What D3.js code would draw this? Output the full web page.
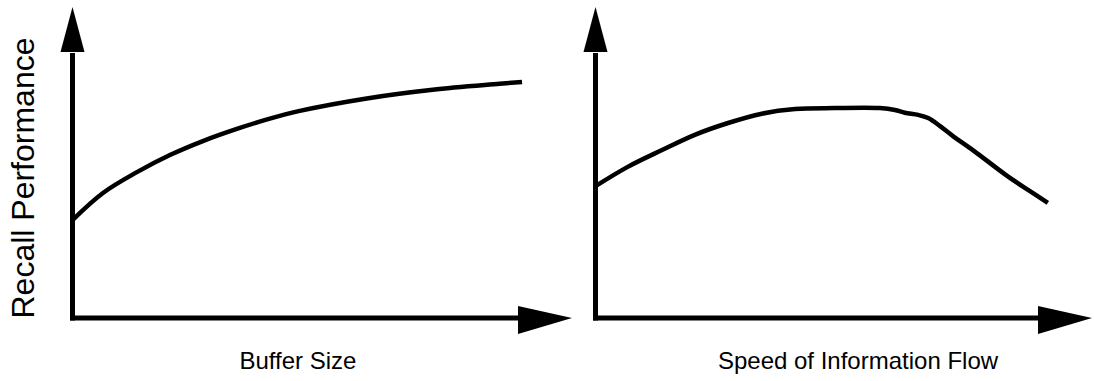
<!DOCTYPE html>
<html>
<head>
<meta charset="utf-8">
<script src="https://cdn.jsdelivr.net/npm/d3@7"></script>
<style>
  body { margin: 0; background: #fff; }
  text { font-family: 'Liberation Sans', Arial, sans-serif; font-size: 24px; fill: #000; }
</style>
</head>
<body>
<div class="chart"></div>
<script>
// values, axis units 0..100 (100 = arrow tip)
const bufferSize = [0, 6.1, 12.9, 19.5, 26.1, 32.9, 39.5, 45.5, 58.9, 72.1, 85.5, 90];
const recallByBuffer = [31.5, 40.2, 46.9, 52.4, 56.9, 60.8, 64.1, 66.6, 70.6, 73.4, 75.3, 75.9];

const flowSpeed = [0, 6.5, 13.4, 20, 26.7, 33.5, 40.2, 48.2, 57.3, 60.3, 62.3, 65, 67, 69.4, 72, 76, 82.9, 87.5, 91.1];
const recallBySpeed = [42.4, 48.6, 54, 58.9, 62.7, 65.7, 67.2, 67.5, 67.5, 66.9, 66.0, 65.3, 64.3, 61.7, 58.5, 54, 45.7, 40.8, 37];

const xLabels = ['Buffer Size', 'Speed of Information Flow'];
const yLabel = 'Recall Performance';

const width = 1094;
const height = 381;

const svg = d3.select('.chart')
  .append('svg')
  .attr('width', width)
  .attr('height', height);

const panels = [
  { x0: 72.5, x1: 572, xs: bufferSize, ys: recallByBuffer, label: xLabels[0], labelX: 298 },
  { x0: 595.5, x1: 1092, xs: flowSpeed, ys: recallBySpeed, label: xLabels[1], labelX: 858 },
];

const y = d3.scaleLinear().domain([0, 100]).range([318, 7]);

panels.forEach((p) => {
  const x = d3.scaleLinear().domain([0, 100]).range([p.x0, p.x1]);
  const g = svg.append('g');

  // y axis with arrow
  g.append('line')
    .attr('x1', x(0)).attr('x2', x(0))
    .attr('y1', y(0) + 2.5).attr('y2', y(100) + 46)
    .attr('stroke', '#000')
    .attr('stroke-width', 5);
  g.append('path')
    .attr('d', `M${x(0)},${y(100)} L${x(0) - 12},${y(100) + 45} L${x(0) + 12},${y(100) + 45} Z`)
    .attr('fill', '#000');

  // x axis with arrow
  g.append('line')
    .attr('x1', x(0) - 2.5).attr('x2', x(100) - 53)
    .attr('y1', y(0)).attr('y2', y(0))
    .attr('stroke', '#000')
    .attr('stroke-width', 5);
  g.append('path')
    .attr('d', `M${x(100)},${y(0)} L${x(100) - 54},${y(0) - 12} L${x(100) - 54},${y(0) + 16} Z`)
    .attr('fill', '#000');

  // curve
  const line = d3.line()
    .x((d) => x(d[0]))
    .y((d) => y(d[1]))
    .curve(d3.curveCatmullRom.alpha(0.5));
  g.append('path')
    .datum(d3.zip(p.xs, p.ys))
    .attr('d', line)
    .attr('fill', 'none')
    .attr('stroke', '#000')
    .attr('stroke-width', 4.5);

  g.append('text')
    .attr('x', p.labelX)
    .attr('y', 369)
    .attr('text-anchor', 'middle')
    .text(p.label);
});

svg.append('text')
  .attr('transform', 'translate(34,178) rotate(-90)')
  .attr('text-anchor', 'middle')
  .style('font-size', '32px')
  .text(yLabel);
</script>
</body>
</html>
